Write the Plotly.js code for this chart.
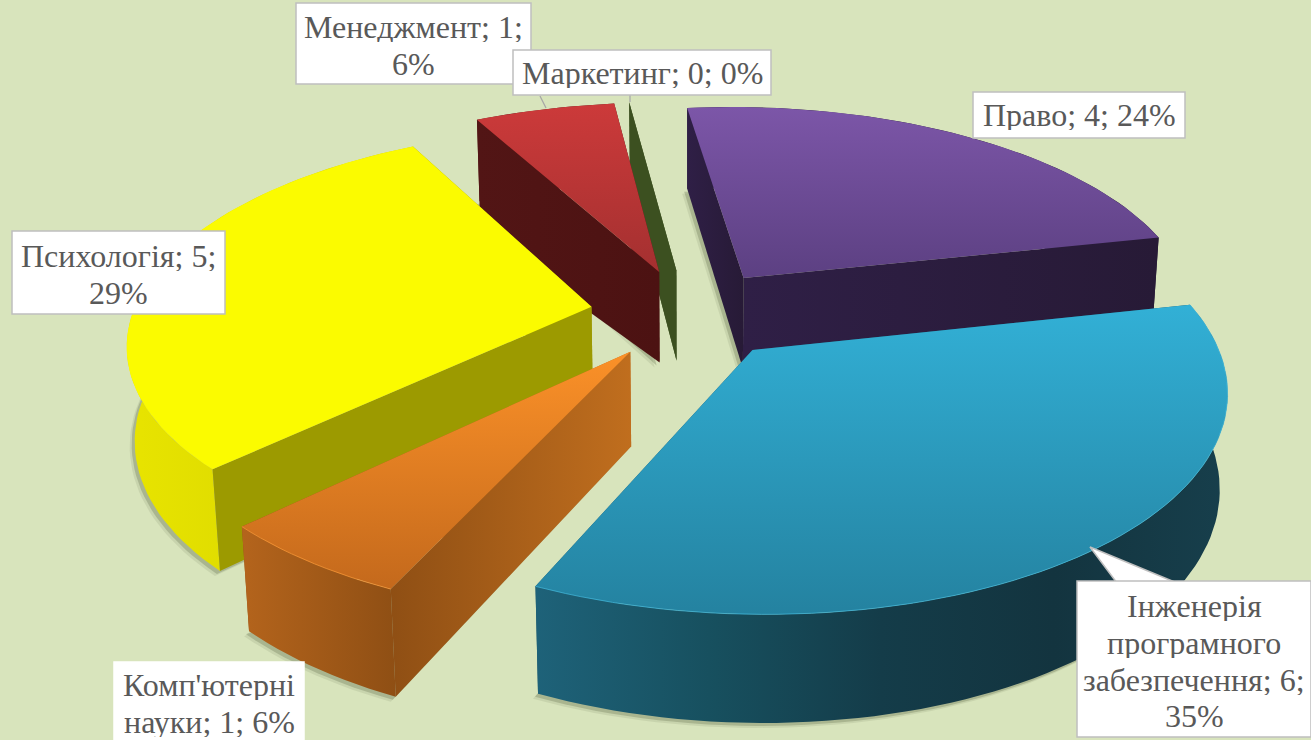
<!DOCTYPE html>
<html><head><meta charset="utf-8">
<script src="https://cdn.plot.ly/plotly-3.0.1.min.js"></script>
<style>html,body{margin:0;padding:0;background:#d8e4bc;overflow:hidden}</style>
</head><body><div id="chart" style="width:1311px;height:740px"></div>
<script>
// Data
const categories = ["Право","Інженерія програмного забезпечення","Комп'ютерні науки","Психологія","Менеджмент","Маркетинг"];
const values = [4,6,1,5,1,0];
const labelLines = [
  ["Право; 4; 24%"],
  ["Інженерія","програмного","забезпечення; 6;","35%"],
  ["Комп'ютерні","науки; 1; 6%"],
  ["Психологія; 5;","29%"],
  ["Менеджмент; 1;","6%"],
  ["Маркетинг; 0; 0%"]
];
// Colours: top faces listed top to bottom, walls listed left to right
const topColors  = [["#7c56a8","#5c4082"],["#32b0d6","#2482a0"],["#fb9128","#c4691c"],["#fbfb00","#fbfb00"],["#cc3a3a","#a43030"],["#3c5020","#3c5020"]];
const wallColors = [["#2c1d42","#271a38"],["#1e6279","#17505f","#143c49","#13343f","#173f4c"],["#b4641c","#8f4f14"],["#e8e400","#d2d000"],["#521616","#521616"],["#3c5020","#3c5020"]];
const cutColors  = [["#2f1f46","#271a36"],["#1a5266","#1a5266"],["#8f4f14","#c06e1e"],["#9c9a00","#9c9a00"],["#521515","#4c1212"],["#3c5020","#3c5020"]];
const edgeColors = [null,"#45bcdf","#ff9d3a",null,null,null];
// Depth of the far end of each slice's cut wall, in wall heights
const farDepth = [1,1,1,1,1.4,1];
// Label boxes: left, top, right, bottom, then first line centre and line pitch
const boxes = [[973,92,1185,138],[1077,581,1311,737],[114,662,304,745],[12,231,225,314],[296,3,531,84],[513,50,771,95]];
const lineTop = [115,606,685,256,27,73];
const linePitch = 36.8;

// Projection constants
const CX=688.58, CY=313.78, A=452, B=-61.52, C=-26.95, D=-207.33, E=0.025, G=0.1588, H=94, K=0.014, EXPL=0.2162, ROT=0.0072;
function proj(x,y,z){ const w=1+E*x+G*y+K*z; return [CX+(A*x+B*y)/w, CY+(C*x+D*y+H*z)/w]; }

const total = values.reduce((a,b)=>a+b,0);
const traces=[];
function poly(pts,cols,type,opacity){
  const t={type:'scatter',mode:'lines',x:pts.map(p=>p[0]),y:pts.map(p=>p[1]),fill:'toself',
    line:{width:0},hoverinfo:'skip',showlegend:false,opacity:opacity===undefined?1:opacity};
  t.x.push(pts[0][0]); t.y.push(pts[0][1]);
  t.fillcolor=cols[0];
  if(cols.length>1){
    const cs=(type==='vertical'?cols.slice().reverse():cols);
    t.fillgradient={type:type,colorscale:cs.map((c,i)=>[i/(cs.length-1),c])};
  }
  return t;
}
let cum=0; const slices=values.map((v,i)=>{
  const a0=cum/total*2*Math.PI; cum+=v; const a1=cum/total*2*Math.PI; const m=(a0+a1)/2+ROT;
  const ox=EXPL*Math.sin(m), oy=EXPL*Math.cos(m);
  const arc=[]; const n=Math.max(2,Math.ceil((a1-a0)/0.03));
  for(let k=0;k<=n;k++){const t=a0+(a1-a0)*k/n+ROT; arc.push([ox+Math.sin(t),oy+Math.cos(t)]);}
  return {i,ox,oy,arc};
});
const order=[0,5,4,3,2,1];
// shadows go under every slice
order.forEach(i=>{
  const s=slices[i]; if(values[i]===0) return;
  const base=[proj(s.ox,s.oy,1)].concat(s.arc.map(p=>proj(p[0],p[1],1)));
  traces.push(poly(base.map(p=>[p[0]-5,p[1]+5]),['#8b9472'],null,0.2));
  traces.push(poly(base.map(p=>[p[0]-3,p[1]+3]),['#6f7a58'],null,0.35));
});
order.forEach(i=>{
  const s=slices[i];
  const apexT=proj(s.ox,s.oy,0), apexB=proj(s.ox,s.oy,1);
  const arcT=s.arc.map(p=>proj(p[0],p[1],0)), arcB=s.arc.map(p=>proj(p[0],p[1],1));
  const farB=proj(s.arc[0][0],s.arc[0][1],farDepth[i]);
  const outer=poly(arcT.concat(arcB.slice().reverse()),wallColors[i],'horizontal');
  const first=poly([apexT,arcT[0],farB,apexB],cutColors[i],'horizontal');
  const last=poly([apexT,arcT[arcT.length-1],arcB[arcB.length-1],apexB],cutColors[i],'horizontal');
  if(s.oy<0){ traces.push(last,first,outer); } else { traces.push(outer,last,first); }
  traces.push(poly([apexT].concat(arcT),topColors[i],'vertical'));
  if(edgeColors[i]) traces.push({type:'scatter',mode:'lines',x:arcT.map(p=>p[0]),y:arcT.map(p=>p[1]),line:{color:edgeColors[i],width:1},opacity:0.7,hoverinfo:'skip',showlegend:false});
});
// callout tail and leader lines
traces.push({type:'scatter',mode:'lines',x:[1117,1090,1177],y:[583,547,583],fill:'toself',fillcolor:'#ffffff',line:{color:'#bfbfbf',width:1.5},hoverinfo:'skip',showlegend:false});
traces.push({type:'scatter',mode:'lines',x:[540,546],y:[96,108],line:{color:'#a6a6a6',width:1.2},hoverinfo:'skip',showlegend:false});
traces.push({type:'scatter',mode:'lines',x:[630,630],y:[95,102],line:{color:'#a6a6a6',width:1.2},hoverinfo:'skip',showlegend:false});

const shapes=boxes.map((b,i)=>({type:'rect',layer:'above',xref:'x',yref:'y',x0:b[0],y0:b[1],x1:b[2],y1:b[3],
  fillcolor:'#ffffff',line:{color:i===2?'#ffffff':'#bfbfbf',width:1.5}}));
const annotations=[];
labelLines.forEach((ls,i)=>{
  const b=boxes[i];
  ls.forEach((txt,j)=>annotations.push({xref:'x',yref:'y',x:(b[0]+b[2])/2,y:lineTop[i]+j*linePitch,xanchor:'center',yanchor:'middle',
    height:30,showarrow:false,text:txt,font:{family:'"Liberation Serif",serif',size:32,color:'#595959'}}));
});
const layout={width:1311,height:740,margin:{l:0,r:0,t:0,b:0},paper_bgcolor:'#d8e4bc',plot_bgcolor:'#d8e4bc',showlegend:false,
  xaxis:{range:[0,1311],visible:false,fixedrange:true},yaxis:{range:[740,0],visible:false,fixedrange:true},shapes,annotations};
Plotly.newPlot('chart',traces,layout,{displayModeBar:false,staticPlot:true});
</script></body></html>
